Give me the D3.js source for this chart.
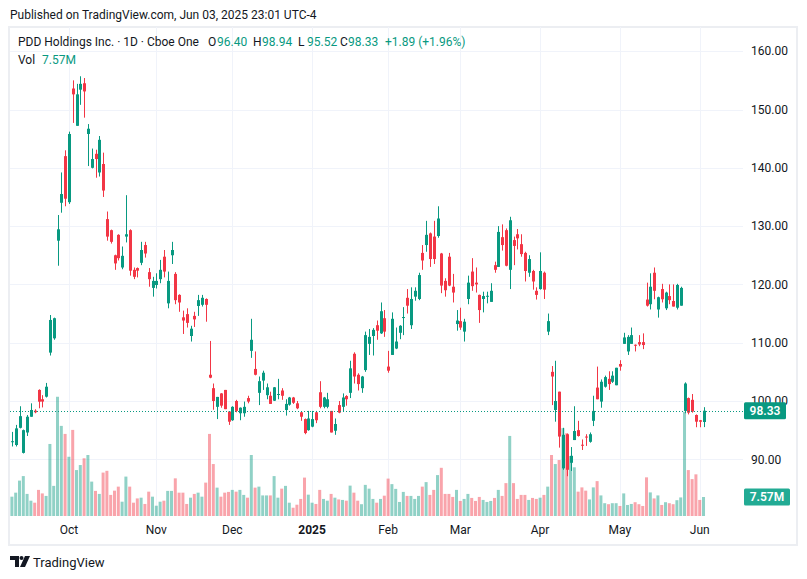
<!DOCTYPE html>
<html><head><meta charset="utf-8">
<script src="https://cdn.jsdelivr.net/npm/d3@7"></script>
<style>
html,body{margin:0;padding:0;background:#fff;}
svg{display:block;font-family:Roboto,"Noto Sans",sans-serif;}
</style></head>
<body>
<svg id="c" width="807" height="579"></svg>
<script>
// ---- data (PDD, daily, Sep 10 2024 – Jun 3 2025) ----
const open = [93.0,92.45,95.4,91.1,94.6,97.3,98.34,101.9,100.3,100.74,108.3,110.75,127.5,134.0,142.0,134.1,153.6,147.2,153.4,154.5,
145.8,140.0,142.4,139.2,140.65,131.2,129.3,125.0,128.5,122.9,128.2,129.3,122.5,122.8,123.7,126.75,122.1,119.4,119.9,120.9,
124.75,116.75,125.0,121.8,118.2,114.35,114.9,111.15,114.6,116.3,116.5,117.5,104.5,102.2,99.0,101.3,101.9,98.2,96.7,100.0,
97.9,97.9,100.5,108.6,105.5,101.4,103.5,101.0,100.9,100.05,101.15,101.8,98.46,99.37,100.6,99.6,98.06,96.9,95.0,95.6,
98.06,101.5,99.0,99.0,98.3,94.9,99.3,99.0,100.85,101.4,108.1,104.5,102.2,105.3,109.8,111.15,113.0,111.6,114.2,105.9,
107.9,109.0,111.7,114.3,117.7,113.0,117.9,117.5,125.4,126.75,128.75,128.2,128.3,125.3,120.6,124.75,119.6,113.2,113.7,111.9,
117.5,122.2,120.3,118.2,117.5,118.0,117.0,123.3,123.0,128.1,129.3,122.5,127.6,128.6,126.9,125.4,122.0,122.3,118.9,119.2,
122.0,111.9,105.0,98.46,101.6,88.45,94.3,89.4,93.3,95.0,92.5,93.9,93.0,96.6,102.3,99.9,102.45,103.8,103.3,102.7,
106.35,109.8,108.5,109.8,109.65,110.1,110.1,117.4,116.6,122.0,115.7,119.2,115.9,118.0,117.15,116.0,116.35,98.3,100.5,100.2,
97.6,96.7,96.40];
const high = [94.7,95.9,99.1,95.1,97.6,99.6,98.58,102.0,101.0,103.1,114.75,114.3,131.9,139.2,143.0,146.2,155.0,154.4,155.7,155.4,
147.5,143.3,143.1,145.45,142.6,132.5,129.4,125.1,128.6,126.5,135.3,129.45,122.9,122.9,127.3,127.3,122.8,121.3,121.9,124.2,
125.9,122.2,127.3,122.1,118.3,115.5,115.9,112.9,115.3,118.2,118.2,117.6,110.3,103.0,100.7,101.35,101.9,98.2,99.1,100.2,
98.9,99.9,100.9,114.1,108.5,104.2,105.2,103.0,101.6,102.4,103.8,102.2,100.3,100.7,100.7,100.0,98.1,97.0,98.3,98.3,
98.3,103.4,100.7,101.4,98.3,97.0,100.0,101.3,101.0,106.9,108.35,104.75,104.3,111.9,112.35,112.5,113.8,116.9,115.6,108.6,
115.2,112.6,113.0,116.1,119.2,119.5,119.5,122.0,126.75,130.9,128.9,130.9,133.4,125.4,121.05,125.4,121.8,115.6,116.0,114.1,
121.5,124.5,122.9,118.25,118.75,118.75,120.2,123.9,130.0,130.3,129.6,131.6,128.2,129.5,128.6,125.6,125.0,122.5,119.5,125.5,
122.2,115.0,106.0,106.9,101.6,95.4,94.4,92.1,99.1,96.6,93.4,94.3,94.6,100.9,105.9,103.7,104.35,105.1,105.1,105.7,
107.0,111.7,111.3,112.6,109.7,111.3,111.6,120.3,121.9,122.9,117.9,120.1,118.75,120.0,120.0,120.1,119.6,103.2,100.6,101.2,
97.7,96.75,98.94];
const low = [92.2,92.2,95.3,91.0,94.0,97.3,97.9,98.75,98.9,100.6,107.8,110.5,123.2,132.3,133.4,133.8,147.7,147.2,150.8,148.6,
140.3,139.9,138.3,138.5,135.0,127.5,127.0,122.5,124.1,122.6,127.2,121.5,120.9,121.2,123.3,124.6,119.6,117.9,119.3,120.2,
121.2,115.9,123.5,116.6,115.3,111.5,112.6,110.2,112.7,114.6,116.2,113.6,103.9,98.5,96.9,98.85,98.6,95.9,96.6,98.06,
96.7,97.3,99.6,107.4,104.4,99.3,101.9,100.3,99.5,100.0,100.3,100.2,97.5,99.2,99.5,98.6,96.6,94.3,94.9,95.5,
96.2,98.75,98.75,98.75,94.6,94.2,97.9,98.2,99.2,100.5,103.0,101.8,101.4,105.0,107.9,107.8,110.5,111.5,111.0,104.85,
107.9,108.9,110.6,111.3,115.0,112.35,117.2,117.3,122.5,125.6,123.0,123.5,128.0,118.5,117.9,119.7,116.9,112.06,112.2,110.2,
116.6,118.9,118.6,113.4,115.2,116.75,117.0,122.0,123.0,125.8,123.1,119.2,123.3,126.0,124.75,120.5,121.3,119.1,117.4,119.1,
117.5,111.3,99.3,96.45,92.0,88.2,87.1,88.0,93.3,93.9,91.6,92.3,92.85,95.7,100.3,98.85,102.3,101.9,103.1,102.7,
105.2,109.8,107.9,109.8,108.5,109.4,108.9,116.2,115.7,117.45,114.3,116.9,115.6,116.6,116.2,115.7,116.35,97.9,97.7,98.0,
95.5,95.5,95.52];
const close = [93.1,95.3,97.4,95.0,97.3,98.46,98.06,99.88,99.9,102.45,113.9,114.2,129.45,135.5,134.7,145.8,152.6,152.6,154.4,153.1,
146.7,141.5,141.5,144.8,136.1,128.2,127.3,123.6,124.5,124.9,128.6,122.35,121.3,122.35,125.9,125.3,120.9,120.6,120.6,122.5,
122.2,120.6,125.9,117.3,116.9,113.8,113.4,112.4,114.0,117.3,117.7,116.5,104.0,100.0,100.7,99.2,98.6,96.45,99.0,98.3,
98.85,99.0,99.9,110.5,104.5,103.4,104.85,102.35,99.5,102.35,101.2,100.9,99.5,100.6,99.7,98.75,97.3,94.5,97.0,96.9,
96.7,99.0,100.6,100.3,94.6,96.05,98.0,100.6,100.3,105.6,104.2,102.9,104.2,111.3,111.0,112.2,112.06,115.4,111.9,105.2,
114.1,110.2,112.9,114.4,116.35,117.5,118.9,121.6,124.1,128.5,124.35,124.35,131.3,119.8,119.0,119.8,118.6,113.8,112.6,113.6,
120.3,119.7,120.0,115.6,118.0,118.05,118.9,122.5,129.0,126.75,123.2,131.0,126.6,127.9,125.2,122.3,124.35,120.5,118.2,122.3,
119.1,113.7,104.2,100.0,93.9,94.2,88.2,90.6,94.85,94.0,92.4,93.8,94.3,98.3,100.3,103.3,104.1,102.9,104.35,105.7,
105.9,110.9,111.0,111.3,109.5,109.7,109.6,116.35,119.6,118.9,117.8,117.45,118.6,117.3,116.2,119.9,119.4,103.0,98.0,98.2,
96.45,96.44,98.33];
// volume, millions
const volume = [7.7,9.3,14.1,15.9,8.8,6.1,5.3,10.4,9.0,8.0,28.7,12.0,47.5,35.9,32.7,23.6,34.3,18.3,20.3,23.0,
24.3,13.7,10.0,8.8,17.3,18.0,8.4,10.1,11.7,5.7,15.7,11.7,5.3,7.0,7.3,4.8,9.7,7.7,4.1,5.7,
6.1,10.0,10.0,15.0,9.3,9.3,4.8,7.3,8.8,9.3,7.7,13.3,32.7,20.7,11.3,7.7,9.3,9.6,10.4,9.7,
10.4,8.4,7.3,24.3,11.3,11.7,8.2,8.2,8.2,15.9,7.3,10.9,12.0,5.3,3.3,4.5,6.8,15.3,8.5,5.3,
4.8,10.4,6.8,6.1,8.8,7.3,6.6,6.4,6.1,12.1,9.3,6.1,4.7,12.4,10.9,6.8,5.3,6.8,8.1,14.9,
12.7,10.8,5.6,9.6,8.0,8.0,6.8,8.0,11.7,13.5,8.4,10.4,16.3,19.2,8.8,8.8,7.6,10.4,6.0,6.8,
8.8,7.2,6.0,7.6,6.4,5.6,6.0,7.2,10.4,8.0,13.1,31.9,13.1,6.8,8.4,8.4,6.4,7.2,6.8,7.3,
8.4,11.7,24.3,20.7,22.3,35.0,33.0,23.9,19.4,9.7,11.4,10.1,6.6,11.4,13.9,8.2,5.1,4.7,5.1,5.1,
4.0,9.0,4.4,4.8,5.5,4.7,4.0,15.4,9.4,7.0,8.2,4.4,5.5,5.1,4.7,6.3,7.4,41.5,18.3,14.7,
16.6,6.4,7.57];
// time axis: bar index of first session of each month, and its label
const monthBars   = [15,38,58,79,99,118,139,160,181];
const monthLabels = ["Oct","Nov","Dec","2025","Feb","Mar","Apr","May","Jun"];
const priceTicks  = [90,100,110,120,130,140,150,160];
const lastPrice = 98.33, lastVolLabel = "7.57M";

// ---- drawing ----
const UP="#089981", DN="#F23645", UPV="rgba(8,153,129,0.45)", DNV="rgba(242,54,69,0.45)";
const svg=d3.select("#c");
const L=10, R=740, T=27, B=516;
const x=d3.scaleLinear().domain([-0.5,191.6]).range([L,R]);
const y=d3.scaleLinear().domain([90,160]).range([459.3,51.2]);
const vy=d3.scaleLinear().domain([0,50]).range([B,B-50*2.51]);
const n=close.length, idx=d3.range(n);

// header
svg.append("text").attr("x",10).attr("y",19).attr("font-size",12).attr("fill","#131722")
  .text("Published on TradingView.com, Jun 03, 2025 23:01 UTC-4");

// frame
svg.append("rect").attr("x",9).attr("y",27).attr("width",788).attr("height",518)
  .attr("fill","none").attr("stroke","#eceef2").attr("stroke-width",2);

// grid
const g=svg.append("g");
g.selectAll(".hg").data(priceTicks).join("line").attr("x1",L).attr("x2",R+3)
  .attr("y1",d=>Math.round(y(d))+0.5).attr("y2",d=>Math.round(y(d))+0.5).attr("stroke","#f0f3fa");
g.selectAll(".vg").data(monthBars).join("line").attr("y1",T).attr("y2",B)
  .attr("x1",d=>Math.round(x(d))+0.5).attr("x2",d=>Math.round(x(d))+0.5).attr("stroke","#f0f3fa");

// volume
svg.append("g").selectAll("rect").data(idx).join("rect")
  .attr("x",i=>x(i)-1.5).attr("width",3)
  .attr("y",i=>vy(volume[i])).attr("height",i=>B-vy(volume[i]))
  .attr("fill",i=>close[i]>=open[i]?UPV:DNV);

// candles
const cg=svg.append("g");
cg.selectAll("line").data(idx).join("line")
  .attr("x1",i=>Math.round(x(i))+0.5).attr("x2",i=>Math.round(x(i))+0.5)
  .attr("y1",i=>y(high[i])).attr("y2",i=>y(low[i]))
  .attr("stroke",i=>close[i]>=open[i]?UP:DN).attr("stroke-width",1);
cg.selectAll("rect").data(idx).join("rect")
  .attr("x",i=>Math.round(x(i))-1).attr("width",3)
  .attr("y",i=>y(Math.max(open[i],close[i])))
  .attr("height",i=>Math.max(1,Math.abs(y(open[i])-y(close[i]))))
  .attr("fill",i=>close[i]>=open[i]?UP:DN);

// last price line
svg.append("line").attr("x1",L).attr("x2",744).attr("y1",Math.round(y(lastPrice))+0.5).attr("y2",Math.round(y(lastPrice))+0.5)
  .attr("stroke",UP).attr("stroke-dasharray","1,2");

// price axis (the 100.00 label sits partly behind the last-price tag, as in the reference)
svg.append("g").selectAll("text").data(priceTicks).join("text")
  .attr("x",751).attr("y",d=>y(d)).attr("dy","0.35em").attr("font-size",12).attr("fill","#131722")
  .text(d=>d3.format(".2f")(d));
// last price label
svg.append("rect").attr("x",744).attr("y",y(lastPrice)-8.5).attr("width",42).attr("height",17).attr("rx",1.5).attr("fill",UP);
svg.append("text").attr("x",765).attr("y",y(lastPrice)).attr("dy","0.35em").attr("text-anchor","middle")
  .attr("font-size",12).attr("font-weight",600).attr("fill","#fff").text(d3.format(".2f")(lastPrice));
// volume label
svg.append("rect").attr("x",744).attr("y",vy(volume[n-1])-8.5).attr("width",46).attr("height",17).attr("rx",1.5).attr("fill","#22ab94");
svg.append("text").attr("x",767).attr("y",vy(volume[n-1])).attr("dy","0.35em").attr("text-anchor","middle")
  .attr("font-size",12).attr("font-weight",600).attr("fill","#fff").text(lastVolLabel);

// time axis
svg.append("g").selectAll("text").data(monthBars).join("text")
  .attr("x",d=>x(d)).attr("y",534).attr("text-anchor","middle").attr("font-size",12)
  .attr("fill","#131722").attr("font-weight",(d,i)=>monthLabels[i]==="2025"?700:400)
  .text((d,i)=>monthLabels[i]);

// legend
const lg=svg.append("text").attr("y",46).attr("font-size",12).attr("fill","#131722");
const parts=[["PDD Holdings Inc. · 1D · Cboe One",18,"#131722"],["O",208,"#131722"],["96.40",217,UP],["H",253,"#131722"],["98.94",262,UP],
 ["L",298,"#131722"],["95.52",307,UP],["C",340,"#131722"],["98.33",348,UP],["+1.89 (+1.96%)",385,UP]];
parts.forEach(p=>lg.append("tspan").attr("x",p[1]).attr("fill",p[2]).text(p[0]));
const vl=svg.append("text").attr("y",64).attr("font-size",12).attr("fill","#131722");
vl.append("tspan").attr("x",18).text("Vol");
vl.append("tspan").attr("x",42).attr("fill",UP).text(lastVolLabel);

// logo
const lo=svg.append("g").attr("transform","translate(10,556)");
lo.append("path").attr("d","M0 0H9V11H5V4H0Z").attr("fill","#131722");
lo.append("circle").attr("cx",11.5).attr("cy",2).attr("r",2).attr("fill","#131722");
lo.append("path").attr("d","M15 0H20L15 11H10Z").attr("fill","#131722");
svg.append("text").attr("x",33).attr("y",566.5).attr("font-size",13).attr("fill","#131722").text("TradingView");
</script>
</body></html>
